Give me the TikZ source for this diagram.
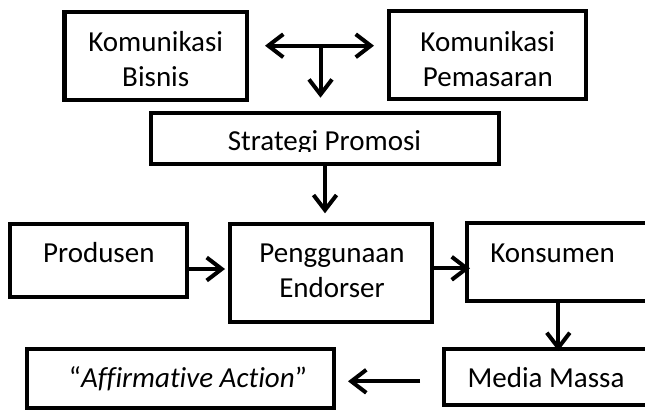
\documentclass[tikz,border=0pt]{standalone}
\usepackage{fontspec}
\setmainfont[Ligatures=NoCommon]{Carlito}
\usetikzlibrary{arrows.meta}
\begin{document}
\begin{tikzpicture}[x=1bp,y=-1bp,
  box/.style={draw, line width=4bp, inner sep=0pt, outer sep=2bp},
  txt/.style={anchor=base, inner sep=0pt, font=\fontsize{29bp}{35bp}\selectfont},
  tip/.style={Straight Barb[length=15bp,width=23bp]},
  conn/.style={line width=4bp, -{Straight Barb[length=15bp,width=23bp]}},
  conn2/.style={line width=4bp, {Straight Barb[length=15bp,width=23bp]}-{Straight Barb[length=15bp,width=23bp]}}]
\useasboundingbox (0,0) rectangle (645,411);
\clip (0,0) rectangle (645,411);
% boxes
\node[box, minimum width=182.5bp, minimum height=88bp] (kb) at (155.75,55.5) {};
\node[box, minimum width=197bp, minimum height=88bp] (kp) at (487.5,55) {};
\node[box, minimum width=348bp, minimum height=51bp] (sp) at (325,138.2) {};
\node[box, minimum width=177bp, minimum height=73.6bp] (pr) at (98.5,260.5) {};
\node[box, minimum width=202.5bp, minimum height=98.6bp] (pe) at (330.75,273) {};
\node[box, minimum width=191bp, minimum height=77.5bp] (ko) at (562.5,261.75) {};
\node[box, minimum width=214bp, minimum height=56bp] (mm) at (551,377) {};
\node[box, minimum width=307bp, minimum height=59bp] (aa) at (180.5,378.5) {};
% texts
\node[txt] (kbt) at (155.75,51.7) {\begin{tabular}[t]{@{}c@{}}Komunikasi\\Bisnis\end{tabular}};
\node[txt] (kpt) at (487.8,51.7) {\begin{tabular}[t]{@{}c@{}}Komunikasi\\Pemasaran\end{tabular}};
\begin{scope}
  \clip (149,100) rectangle (501,151.7);
  \node[txt] (spt) at (324.5,150) {Strategi Promosi};
\end{scope}
\node[txt] (prt) at (98.8,262) {Produsen};
\node[txt] (pet) at (332,262) {\begin{tabular}[t]{@{}c@{}}Penggunaan\\Endorser\end{tabular}};
\node[txt] (kot) at (552.5,262) {Konsumen};
\node[txt] (mmt) at (546,387.3) {Media Massa};
\node[txt] (aat) at (187.9,387.3) {“\textit{Affirmative Action}”};
% connectors
\coordinate (j) at (320.5,45.7);
\coordinate (m) at (0,381.3);
\draw[conn2, shorten <=16bp, shorten >=13bp] (kb.east |- j) -- (kp.west |- j);
\draw[conn, shorten >=13bp] (j) -- (sp.north -| j);
\draw[conn, shorten >=8.4bp] (sp.south) -- (sp.south |- pe.north);
\draw[conn, shorten >=2.5bp] ([yshift=-8.5bp]pr.east) -- ([yshift=-8.5bp]pr.east -| pe.west);
\draw[conn, shorten >=-5bp] ([yshift=4.7bp]pe.east) -- ([yshift=4.7bp]pe.east -| ko.west);
\draw[conn, shorten >=-4bp] (ko.south -| 558.3,0) -- (mm.north -| 558.3,0);
\draw[conn, shorten <=22bp, shorten >=12bp] (mm.west |- m) -- (aa.east |- m);
\end{tikzpicture}
\end{document}
